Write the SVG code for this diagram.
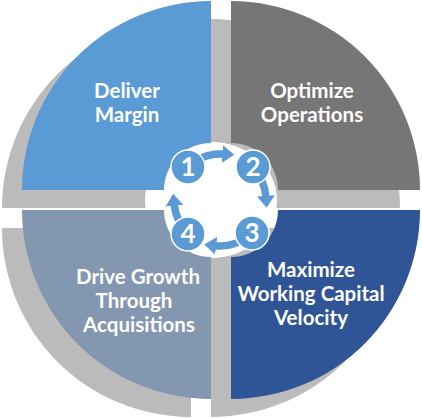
<svg xmlns="http://www.w3.org/2000/svg" width="422" height="418" viewBox="0 0 422 418">
<style>
.sh{fill:#BBBBBB}
.lbl{font-family:Lato,"Liberation Sans",sans-serif;font-weight:bold;font-size:20.5px;fill:#FFFFFF;text-anchor:middle}
.num{font-family:Lato,"Liberation Sans",sans-serif;font-weight:bold;font-size:26px;fill:#FFFFFF;text-anchor:middle}
.step{fill:#5B9BD5;stroke:#FFFFFF;stroke-width:1.5}
.arc{fill:none;stroke:#5B9BD5;stroke-width:7.5}
</style>
<defs>
<marker id="ah" markerUnits="userSpaceOnUse" markerWidth="12" markerHeight="18" viewBox="0 0 12 18" refX="1" refY="9" orient="auto">
<path d="M0,0 L12,9 L0,18 Z" fill="#5B9BD5"/>
</marker>
</defs>
<g id="shadows">
<path class="sh" d="M191,19 A189,189 0 0 0 2,208 L171,208 A20,20 0 0 1 191,188 Z"/>
<path class="sh" d="M211,19 A189,189 0 0 1 400,208 L231,208 A20,20 0 0 0 211,188 Z"/>
<path class="sh" d="M400,228 A189,189 0 0 1 211,417 L211,248 A20,20 0 0 0 231,228 Z"/>
<path class="sh" d="M191,417 A189,189 0 0 1 2,228 L171,228 A20,20 0 0 0 191,248 Z"/>
</g>
<ellipse id="hub" cx="211" cy="200" rx="66" ry="58" fill="#FFFFFF"/>
<g id="deliver-margin">
<path fill="#5B9BD5" d="M211,1 A189,189 0 0 0 22,190 L164,190 A47,47 0 0 1 211,143 Z"/>
<text class="lbl" x="127" y="98">Deliver</text>
<text class="lbl" x="127" y="122">Margin</text>
</g>
<g id="optimize-operations">
<path fill="#767676" d="M231,1 A189,189 0 0 1 420,190 L278,190 A47,47 0 0 0 231,143 Z"/>
<text class="lbl" x="312" y="98">Optimize</text>
<text class="lbl" x="312" y="122">Operations</text>
</g>
<g id="maximize-working-capital">
<path fill="#2F5597" d="M420,210 A189,189 0 0 1 231,399 L231,257 A47,47 0 0 0 278,210 Z"/>
<text class="lbl" x="311" y="277">Maximize</text>
<text class="lbl" x="311" y="301">Working Capital</text>
<text class="lbl" x="311" y="325">Velocity</text>
</g>
<g id="drive-growth">
<path fill="#8497B0" d="M211,399 A189,189 0 0 1 22,210 L164,210 A47,47 0 0 0 211,257 Z"/>
<text class="lbl" x="138" y="284">Drive Growth</text>
<text class="lbl" x="134" y="308">Through</text>
<text class="lbl" x="139" y="332">Acquisitions</text>
</g>
<g id="connectors">
<path class="arc" marker-end="url(#ah)" d="M200.6,158.3 A46,46 0 0 1 223.2,154.1"/>
<path class="arc" marker-end="url(#ah)" d="M261.7,180.6 A46,46 0 0 1 265.9,196.8"/>
<path class="arc" marker-end="url(#ah)" d="M239.4,241.7 A46,46 0 0 1 215.2,245.7"/>
<path class="arc" marker-end="url(#ah)" d="M179.4,221.6 A46,46 0 0 1 174.3,204.8"/>
</g>
<g id="step-1"><circle class="step" cx="188" cy="167" r="17"/><text class="num" x="188" y="176">1</text></g>
<g id="step-2"><circle class="step" cx="253" cy="167" r="17"/><text class="num" x="253" y="176">2</text></g>
<g id="step-3"><circle class="step" cx="252" cy="233" r="17"/><text class="num" x="252" y="242">3</text></g>
<g id="step-4"><circle class="step" cx="188" cy="234" r="17"/><text class="num" x="188" y="243">4</text></g>
</svg>
